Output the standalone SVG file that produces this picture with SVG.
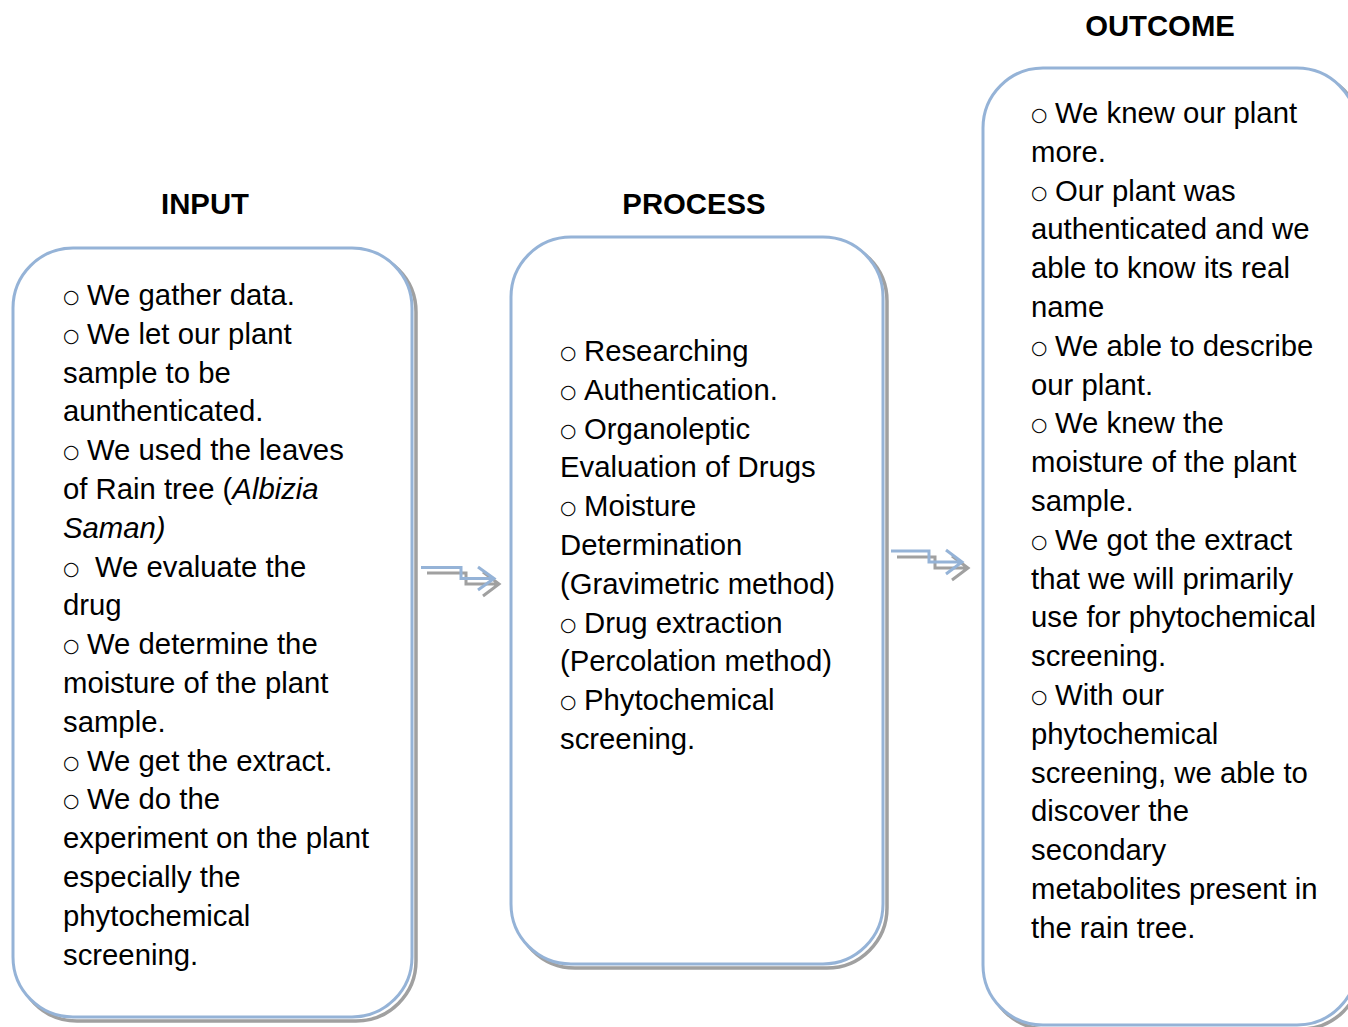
<svg xmlns="http://www.w3.org/2000/svg" width="1348" height="1027" viewBox="0 0 1348 1027">
<style>
  .box { fill: #ffffff; stroke: #95B3D7; stroke-width: 3; }
  .shadow { fill: none; stroke: #a0a0a0; stroke-width: 3.5; }
  .t { font-family: "Liberation Sans", Arial, sans-serif; font-size: 29.3px; fill: #000; white-space: pre; }
  .h { font-family: "Liberation Sans", Arial, sans-serif; font-size: 29.3px; font-weight: bold; fill: #000; text-anchor: middle; }
  .b { font-family: "DejaVu Sans", sans-serif; font-size: 19px; baseline-shift: 2.5px; }
  .i { font-style: italic; }
  .arr { fill: none; stroke-width: 3; stroke-linejoin: miter; }
  .arrB { stroke: #95B3D7; }
  .arrG { stroke: #a0a0a0; }
</style>

<g id="headers">
  <text class="h" x="205" y="214">INPUT</text>
  <text class="h" x="694" y="214">PROCESS</text>
  <text class="h" x="1160" y="36">OUTCOME</text>
</g>

<g id="connectors">
  <g id="arrow1">
    <path class="arr arrG" d="M427 573 H466 V584 H498 M483 572 L499 584 L483 596"/>
    <path class="arr arrB" d="M421 567.5 H461 V578.5 H493 M478 567 L494 578.5 L478 590"/>
  </g>
  <g id="arrow2">
    <path class="arr arrG" d="M897 557 H935 V568 H968 M952 556 L968 568 L952 580"/>
    <path class="arr arrB" d="M891 551 H929 V562 H962 M946 550 L962 562 L946 574"/>
  </g>
</g>

<g id="input">
  <rect class="shadow" x="17" y="252" width="399" height="769" rx="60" ry="60"/>
  <rect class="box" x="13" y="248" width="399" height="769" rx="60" ry="60"/>
  <text class="t">
    <tspan x="63" y="305" class="b">○</tspan><tspan x="87" y="305">We gather data.</tspan>
    <tspan x="63" y="343.8" class="b">○</tspan><tspan x="87" y="343.8">We let our plant</tspan>
    <tspan x="63" y="382.6">sample to be</tspan>
    <tspan x="63" y="421.4">aunthenticated.</tspan>
    <tspan x="63" y="460.2" class="b">○</tspan><tspan x="87" y="460.2">We used the leaves</tspan>
    <tspan x="63" y="499">of Rain tree (<tspan class="i">Albizia</tspan></tspan>
    <tspan x="63" y="537.8" class="i">Saman)</tspan>
    <tspan x="63" y="576.6" class="b">○</tspan><tspan x="95" y="576.6">We evaluate the</tspan>
    <tspan x="63" y="615.4">drug</tspan>
    <tspan x="63" y="654.2" class="b">○</tspan><tspan x="87" y="654.2">We determine the</tspan>
    <tspan x="63" y="693">moisture of the plant</tspan>
    <tspan x="63" y="731.8">sample.</tspan>
    <tspan x="63" y="770.6" class="b">○</tspan><tspan x="87" y="770.6">We get the extract.</tspan>
    <tspan x="63" y="809.4" class="b">○</tspan><tspan x="87" y="809.4">We do the</tspan>
    <tspan x="63" y="848.2">experiment on the plant</tspan>
    <tspan x="63" y="887">especially the</tspan>
    <tspan x="63" y="925.8">phytochemical</tspan>
    <tspan x="63" y="964.6">screening.</tspan>
  </text>
</g>

<g id="process">
  <rect class="shadow" x="515" y="241" width="372" height="727" rx="60" ry="60"/>
  <rect class="box" x="511" y="237" width="372" height="727" rx="60" ry="60"/>
  <text class="t">
    <tspan x="560" y="361" class="b">○</tspan><tspan x="584" y="361">Researching</tspan>
    <tspan x="560" y="399.8" class="b">○</tspan><tspan x="584" y="399.8">Authentication.</tspan>
    <tspan x="560" y="438.6" class="b">○</tspan><tspan x="584" y="438.6">Organoleptic</tspan>
    <tspan x="560" y="477.4">Evaluation of Drugs</tspan>
    <tspan x="560" y="516.2" class="b">○</tspan><tspan x="584" y="516.2">Moisture</tspan>
    <tspan x="560" y="555">Determination</tspan>
    <tspan x="560" y="593.8">(Gravimetric method)</tspan>
    <tspan x="560" y="632.6" class="b">○</tspan><tspan x="584" y="632.6">Drug extraction</tspan>
    <tspan x="560" y="671.4">(Percolation method)</tspan>
    <tspan x="560" y="710.2" class="b">○</tspan><tspan x="584" y="710.2">Phytochemical</tspan>
    <tspan x="560" y="749">screening.</tspan>
  </text>
</g>

<g id="outcome">
  <rect class="shadow" x="987" y="72" width="374" height="957" rx="60" ry="60"/>
  <rect class="box" x="983" y="68" width="374" height="957" rx="60" ry="60"/>
  <text class="t">
    <tspan x="1031" y="123" class="b">○</tspan><tspan x="1055" y="123">We knew our plant</tspan>
    <tspan x="1031" y="161.8">more.</tspan>
    <tspan x="1031" y="200.6" class="b">○</tspan><tspan x="1055" y="200.6">Our plant was</tspan>
    <tspan x="1031" y="239.4">authenticated and we</tspan>
    <tspan x="1031" y="278.2">able to know its real</tspan>
    <tspan x="1031" y="317">name</tspan>
    <tspan x="1031" y="355.8" class="b">○</tspan><tspan x="1055" y="355.8">We able to describe</tspan>
    <tspan x="1031" y="394.6">our plant.</tspan>
    <tspan x="1031" y="433.4" class="b">○</tspan><tspan x="1055" y="433.4">We knew the</tspan>
    <tspan x="1031" y="472.2">moisture of the plant</tspan>
    <tspan x="1031" y="511">sample.</tspan>
    <tspan x="1031" y="549.8" class="b">○</tspan><tspan x="1055" y="549.8">We got the extract</tspan>
    <tspan x="1031" y="588.6">that we will primarily</tspan>
    <tspan x="1031" y="627.4">use for phytochemical</tspan>
    <tspan x="1031" y="666.2">screening.</tspan>
    <tspan x="1031" y="705" class="b">○</tspan><tspan x="1055" y="705">With our</tspan>
    <tspan x="1031" y="743.8">phytochemical</tspan>
    <tspan x="1031" y="782.6">screening, we able to</tspan>
    <tspan x="1031" y="821.4">discover the</tspan>
    <tspan x="1031" y="860.2">secondary</tspan>
    <tspan x="1031" y="899">metabolites present in</tspan>
    <tspan x="1031" y="937.8">the rain tree.</tspan>
  </text>
</g>
</svg>
